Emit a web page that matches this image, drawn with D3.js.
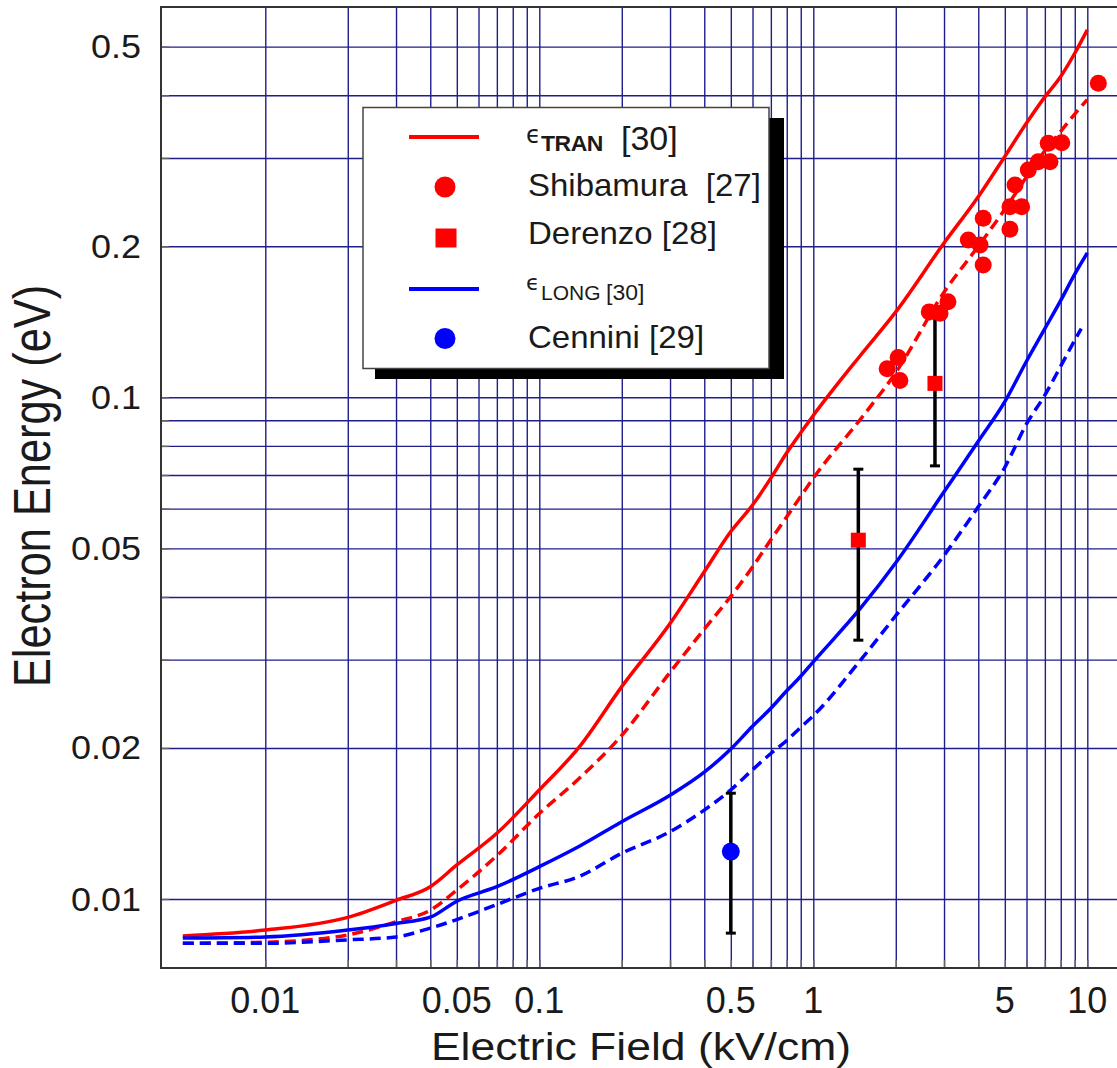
<!DOCTYPE html>
<html lang="en">
<head>
<meta charset="utf-8">
<title>electron energy vs electric field</title>
<script src="https://cdn.jsdelivr.net/npm/d3@7"></script>
<style>
  body { margin: 0; background: #fff; }
  text { font-family: "Liberation Sans", Arial, Helvetica, sans-serif; fill: #1a1a1a; }
</style>
</head>
<body>
<div id="chart"></div>
<script>
// grid lines and tick labels
var xGrid = [0.01, 0.02, 0.03, 0.04, 0.05, 0.06, 0.07, 0.08, 0.09,
             0.1, 0.2, 0.3, 0.4, 0.5, 0.6, 0.7, 0.8, 0.9,
             1, 2, 3, 4, 5, 6, 7, 8, 9, 10];
var yGrid = [0.01, 0.02, 0.03, 0.04, 0.05, 0.06, 0.07, 0.08, 0.09,
             0.1, 0.2, 0.3, 0.4, 0.5];
var xLabels = [0.01, 0.05, 0.1, 0.5, 1, 5, 10];
var yLabels = [0.01, 0.02, 0.05, 0.1, 0.2, 0.5];

// calculated curves (kV/cm -> eV)
var field     = [0.005, 0.01, 0.02, 0.03, 0.04, 0.05, 0.07, 0.1, 0.14, 0.2, 0.3, 0.4, 0.5, 0.6, 0.7, 0.8, 0.9, 1, 1.5, 2, 3, 4, 5, 6, 7, 8, 9, 10];
var tranSolid = [0.00844, 0.00867, 0.00919, 0.00994, 0.01058, 0.01169, 0.01352, 0.01649, 0.0201, 0.0265, 0.0354, 0.0449, 0.054, 0.061, 0.069, 0.0775, 0.085, 0.092, 0.122, 0.148, 0.203, 0.251, 0.302, 0.352, 0.397, 0.436, 0.485, 0.54];
var tranDash  = [0.00816, 0.0082, 0.00848, 0.00901, 0.0095, 0.01042, 0.0122, 0.0148, 0.0174, 0.0212, 0.0283, 0.0345, 0.0401, 0.0459, 0.052, 0.0578, 0.0635, 0.069, 0.091, 0.112, 0.162, 0.2, 0.237, 0.275, 0.31, 0.339, 0.367, 0.392];
var longSolid = [0.00836, 0.0084, 0.00867, 0.00894, 0.0092, 0.0099, 0.01058, 0.0116, 0.01274, 0.01426, 0.0161, 0.0179, 0.0199, 0.0221, 0.024, 0.026, 0.0278, 0.0297, 0.0382, 0.0468, 0.0648, 0.0817, 0.098, 0.118, 0.137, 0.156, 0.176, 0.194];
var fieldLongDash = [0.005, 0.01, 0.02, 0.03, 0.04, 0.05, 0.07, 0.1, 0.14, 0.2, 0.3, 0.4, 0.5, 0.6, 0.7, 0.8, 0.9, 1, 1.5, 2, 3, 4, 5, 6, 7, 8, 9, 9.5];
var longDash  = [0.00816, 0.00816, 0.00829, 0.0084, 0.00875, 0.0091, 0.00975, 0.0105, 0.01109, 0.01234, 0.01362, 0.01504, 0.0165, 0.0181, 0.0195, 0.0207, 0.022, 0.0232, 0.0301, 0.0367, 0.0484, 0.0605, 0.0725, 0.0885, 0.101, 0.1154, 0.13, 0.137];

// measurements
var shibField  = [1.86, 2.04, 2.07, 2.65, 2.9, 3.1, 3.68, 4.06, 4.17, 4.17, 5.22, 5.76, 5.45, 5.22, 6.09, 6.62, 7.31, 7.2, 8.07, 10.97];
var shibEnergy = [0.114, 0.12, 0.108, 0.148, 0.147, 0.155, 0.2058, 0.2012, 0.2274, 0.1835, 0.2398, 0.2398, 0.265, 0.2162, 0.2838, 0.2948, 0.2948, 0.3208, 0.3217, 0.4225];
var derField  = [1.46, 2.78];
var derEnergy = [0.0519, 0.1066];
var derLow    = [0.0328, 0.073];
var derHigh   = [0.0719, 0.1452];
var cenField  = [0.5];
var cenEnergy = [0.01243];
var cenLow    = [0.00855];
var cenHigh   = [0.01625];

var W = 1117, H = 1068;
var plotLeft = 161, plotTop = 7, plotBottom = 968, plotRight = 1117;
var gridColor = "#1f1f8c";

var x = d3.scaleLog().domain([0.01, 10]).range([265.3, 1087.3]);
var y = d3.scaleLog().domain([0.01, 0.1]).range([899, 397.3]);

var svg = d3.select("#chart").append("svg")
  .attr("width", W).attr("height", H)
  .style("background", "#fff");

// grid
svg.append("g")
  .attr("transform", "translate(0," + plotBottom + ")")
  .call(d3.axisBottom(x).tickValues(xGrid).tickSize(-(plotBottom - plotTop)).tickFormat(""))
  .call(g => g.select(".domain").remove())
  .call(g => g.selectAll("line").attr("stroke", gridColor).attr("stroke-width", 1.4));

svg.append("g")
  .attr("transform", "translate(" + plotLeft + ",0)")
  .call(d3.axisLeft(y).tickValues(yGrid).tickSize(-(plotRight - plotLeft)).tickFormat(""))
  .call(g => g.select(".domain").remove())
  .call(g => g.selectAll("line").attr("stroke", gridColor).attr("stroke-width", 1.4));

// small inner ticks
svg.append("g")
  .attr("transform", "translate(0," + plotBottom + ")")
  .call(d3.axisBottom(x).tickValues(xGrid).tickSize(-8).tickFormat(""))
  .call(g => g.select(".domain").remove())
  .call(g => g.selectAll("line").attr("stroke", "#666").attr("stroke-width", 1.4));
svg.append("g")
  .attr("transform", "translate(" + plotLeft + ",0)")
  .call(d3.axisLeft(y).tickValues(yGrid).tickSize(-8).tickFormat(""))
  .call(g => g.select(".domain").remove())
  .call(g => g.selectAll("line").attr("stroke", "#666").attr("stroke-width", 1.4));

// frame
svg.append("path")
  .attr("d", "M" + plotRight + "," + plotTop + "H" + plotLeft + "V" + plotBottom + "H" + plotRight)
  .attr("fill", "none").attr("stroke", "#333").attr("stroke-width", 2);

// tick labels
svg.append("g").selectAll("text").data(xLabels).join("text")
  .attr("transform", d => "translate(" + x(d) + ",1013)")
  .attr("text-anchor", "middle")
  .style("font-size", "36px")
  .text(d => d);

svg.append("g").selectAll("text").data(yLabels).join("text")
  .attr("transform", d => "translate(141," + (y(d) + 11.5) + ") scale(1,0.9)")
  .attr("text-anchor", "end")
  .style("font-size", "36px")
  .text(d => d);

// axis titles
svg.append("text")
  .attr("transform", "translate(641,1060) scale(1,0.885)")
  .attr("text-anchor", "middle")
  .style("font-size", "44.5px")
  .text("Electric Field (kV/cm)");

svg.append("text")
  .attr("transform", "translate(50,486) rotate(-90) scale(0.85,1)")
  .attr("text-anchor", "middle")
  .style("font-size", "51px")
  .text("Electron Energy (eV)");

// curves
var line = d3.line().x(d => x(d[0])).y(d => y(d[1])).curve(d3.curveMonotoneX);
var curves = [
  { data: d3.zip(field, tranSolid), color: "#ff0000", dash: null },
  { data: d3.zip(field, tranDash), color: "#ff0000", dash: "11,6" },
  { data: d3.zip(field, longSolid), color: "#0000ff", dash: null },
  { data: d3.zip(fieldLongDash, longDash), color: "#0000ff", dash: "11,6" }
];
svg.append("g").selectAll("path").data(curves).join("path")
  .attr("d", d => line(d.data))
  .attr("fill", "none")
  .attr("stroke", d => d.color)
  .attr("stroke-width", 3.5)
  .attr("stroke-dasharray", d => d.dash);

// error bars
var bars = d3.zip(derField, derLow, derHigh).concat(d3.zip(cenField, cenLow, cenHigh));
var eb = svg.append("g").attr("stroke", "#000");
eb.selectAll("line.v").data(bars).join("line").attr("class", "v")
  .attr("x1", d => x(d[0])).attr("x2", d => x(d[0]))
  .attr("y1", d => y(d[1])).attr("y2", d => y(d[2]))
  .attr("stroke-width", 3.5);
eb.selectAll("line.lo").data(bars).join("line").attr("class", "lo")
  .attr("x1", d => x(d[0]) - 5).attr("x2", d => x(d[0]) + 5)
  .attr("y1", d => y(d[1])).attr("y2", d => y(d[1]))
  .attr("stroke-width", 3);
eb.selectAll("line.hi").data(bars).join("line").attr("class", "hi")
  .attr("x1", d => x(d[0]) - 5).attr("x2", d => x(d[0]) + 5)
  .attr("y1", d => y(d[2])).attr("y2", d => y(d[2]))
  .attr("stroke-width", 3);

// markers
svg.append("g").selectAll("circle").data(d3.zip(shibField, shibEnergy)).join("circle")
  .attr("cx", d => x(d[0])).attr("cy", d => y(d[1])).attr("r", 8.5)
  .attr("fill", "#ff0000");
svg.append("g").selectAll("rect").data(d3.zip(derField, derEnergy)).join("rect")
  .attr("x", d => x(d[0]) - 7.5).attr("y", d => y(d[1]) - 7.5)
  .attr("width", 15).attr("height", 15)
  .attr("fill", "#ff0000");
svg.append("g").selectAll("circle").data(d3.zip(cenField, cenEnergy)).join("circle")
  .attr("cx", d => x(d[0])).attr("cy", d => y(d[1])).attr("r", 9)
  .attr("fill", "#0000ff");

// legend
var lg = svg.append("g");
lg.append("rect").attr("x", 375).attr("y", 118).attr("width", 409).attr("height", 261).attr("fill", "#000");
lg.append("rect").attr("x", 363).attr("y", 107.5).attr("width", 406).attr("height", 261)
  .attr("fill", "#fff").attr("stroke", "#444").attr("stroke-width", 1.5);

lg.append("line").attr("x1", 409).attr("x2", 479).attr("y1", 137).attr("y2", 137)
  .attr("stroke", "#ff0000").attr("stroke-width", 4);
lg.append("line").attr("x1", 409).attr("x2", 479).attr("y1", 289).attr("y2", 289)
  .attr("stroke", "#0000ff").attr("stroke-width", 4);
lg.append("circle").attr("cx", 445).attr("cy", 187).attr("r", 10.5).attr("fill", "#ff0000");
lg.append("rect").attr("x", 435.5).attr("y", 228.5).attr("width", 21).attr("height", 19).attr("fill", "#ff0000");
lg.append("circle").attr("cx", 445).attr("cy", 338.5).attr("r", 10.5).attr("fill", "#0000ff");

function ltext(px, py, str, size, sy, extra) {
  var t = lg.append("text")
    .attr("transform", "translate(" + px + "," + py + ") scale(1," + sy + ")")
    .style("font-size", size + "px")
    .style("white-space", "pre")
    .text(str);
  if (extra) extra(t);
  return t;
}
var eps = t => t.style("font-family", "'DejaVu Sans', sans-serif");
ltext(526, 143, "\u03F5", 24, 1, eps);
ltext(541, 151, "TRAN", 23, 0.95, t => t.style("font-weight", "bold").style("letter-spacing", "-0.5px"));
ltext(621, 150, "[30]", 34, 0.95);
ltext(528, 196, "Shibamura  [27]", 33, 0.95);
ltext(528, 244, "Derenzo [28]", 33, 0.95);
ltext(526, 290, "\u03F5", 22, 1, eps);
ltext(541, 300, "LONG", 21, 0.95);
ltext(606, 300, "[30]", 23, 0.95);
ltext(528, 348, "Cennini [29]", 33, 0.95);
</script>
</body>
</html>
